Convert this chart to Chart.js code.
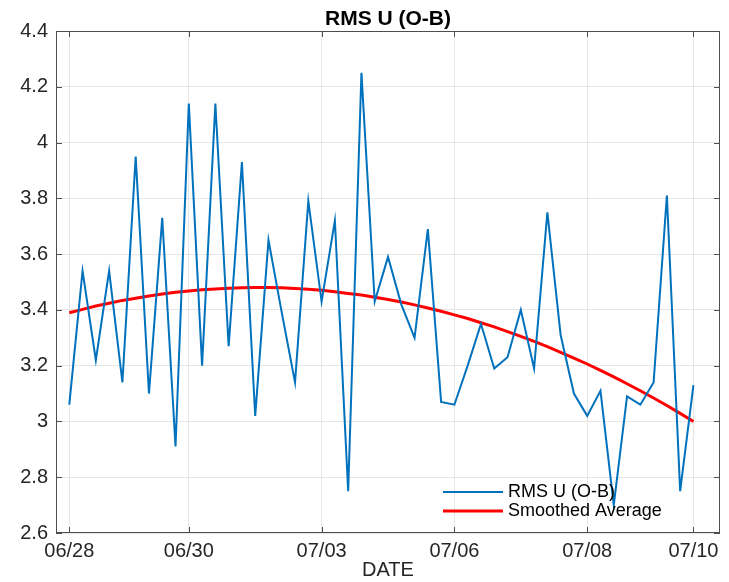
<!DOCTYPE html>
<html>
<head>
<meta charset="utf-8">
<script src="https://cdn.jsdelivr.net/npm/chart.js@4"></script>
<style>
  body { margin: 0; background: #fff; }
  #wrap { width: 729px; height: 582px; position: relative; }
</style>
</head>
<body>
<div id="wrap"><canvas id="chart"></canvas></div>
<script>
// data (one point per sample index)
var rmsU = [3.06, 3.54, 3.22, 3.54, 3.14, 3.95, 3.10, 3.73, 2.91, 4.14,
            3.20, 4.14, 3.27, 3.93, 3.02, 3.65, 3.39, 3.14, 3.79, 3.43,
            3.72, 2.75, 4.25, 3.43, 3.59, 3.42, 3.30, 3.69, 3.07, 3.06,
            3.20, 3.35, 3.19, 3.23, 3.40, 3.19, 3.75, 3.31, 3.10, 3.02,
            3.11, 2.70, 3.09, 3.06, 3.14, 3.81, 2.75, 3.13];
var smoothed = [3.390, 3.402, 3.414, 3.424, 3.434, 3.442, 3.450, 3.457, 3.463, 3.468,
                3.472, 3.475, 3.478, 3.479, 3.480, 3.480, 3.479, 3.477, 3.474, 3.470,
                3.465, 3.459, 3.453, 3.445, 3.437, 3.428, 3.418, 3.407, 3.395, 3.382,
                3.369, 3.354, 3.339, 3.322, 3.305, 3.287, 3.268, 3.248, 3.227, 3.206,
                3.183, 3.160, 3.135, 3.110, 3.084, 3.057, 3.029, 3.000];
var tickIdx = [0, 9, 19, 29, 39, 47];
var tickLabels = ['06/28', '06/30', '07/03', '07/06', '07/08', '07/10'];
var titleText = 'RMS U (O-B)';

var FONT = "'Liberation Sans', Arial, Helvetica, sans-serif";

function toXY(arr) {
  return arr.map(function (v, i) { return { x: i, y: v }; });
}

// matlab style box with inward ticks, title over the axes, legend inside
var boxPlugin = {
  id: 'matlabBox',
  afterDatasetsDraw: function (chart) {
    var ctx = chart.ctx, a = chart.chartArea;
    var xs = chart.scales.x, ys = chart.scales.y;
    ctx.save();
    ctx.strokeStyle = '#4d4d4d';
    ctx.lineWidth = 1;
    ctx.strokeRect(a.left + 0.5, a.top + 0.5, a.right - a.left - 1, a.bottom - a.top - 1);
    ctx.beginPath();
    xs.ticks.forEach(function (t) {
      var px = Math.round(xs.getPixelForValue(t.value)) + 0.5;
      ctx.moveTo(px, a.bottom); ctx.lineTo(px, a.bottom - 6);
      ctx.moveTo(px, a.top); ctx.lineTo(px, a.top + 6);
    });
    ys.ticks.forEach(function (t) {
      var py = Math.round(ys.getPixelForValue(t.value)) + 0.5;
      ctx.moveTo(a.left, py); ctx.lineTo(a.left + 6, py);
      ctx.moveTo(a.right, py); ctx.lineTo(a.right - 6, py);
    });
    ctx.stroke();
    ctx.restore();
  },
  afterDraw: function (chart) {
    var ctx = chart.ctx, a = chart.chartArea;
    ctx.save();
    ctx.fillStyle = '#000';
    ctx.font = 'bold 21px ' + FONT;
    ctx.textAlign = 'center';
    ctx.textBaseline = 'middle';
    ctx.fillText(titleText, (a.left + a.right) / 2, 19);

    var lx = 443, ly = 492, row = 19;
    ctx.font = '18px ' + FONT;
    ctx.textAlign = 'left';
    chart.data.datasets.forEach(function (ds, i) {
      var y = ly + i * row;
      ctx.strokeStyle = ds.borderColor;
      ctx.lineWidth = ds.borderWidth;
      ctx.beginPath();
      ctx.moveTo(lx, y); ctx.lineTo(lx + 60, y);
      ctx.stroke();
      ctx.fillStyle = '#000';
      ctx.fillText(ds.label, lx + 65, y);
    });
    ctx.restore();
  }
};

var config = {
  type: 'line',
  data: {
    datasets: [
      {
        label: 'RMS U (O-B)',
        data: toXY(rmsU),
        borderColor: '#0072BD',
        borderWidth: 2,
        pointRadius: 0,
        tension: 0,
        fill: false
      },
      {
        label: 'Smoothed Average',
        data: toXY(smoothed),
        borderColor: '#FF0000',
        borderWidth: 3,
        pointRadius: 0,
        tension: 0,
        fill: false
      }
    ]
  },
  options: {
    responsive: true,
    maintainAspectRatio: false,
    animation: false,
    layout: { padding: { left: 0, right: 9, top: 31, bottom: 0 } },
    plugins: {
      legend: { display: false },
      tooltip: { enabled: false },
      title: { display: false }
    },
    scales: {
      x: {
        type: 'linear',
        min: -1,
        max: 49,
        afterBuildTicks: function (scale) {
          scale.ticks = tickIdx.map(function (v) { return { value: v }; });
        },
        afterFit: function (scale) { scale.height = 49; },
        ticks: {
          autoSkip: false,
          maxRotation: 0,
          padding: 6,
          color: '#262626',
          font: { family: FONT, size: 20 },
          callback: function (v) {
            var k = tickIdx.indexOf(v);
            return k >= 0 ? tickLabels[k] : '';
          }
        },
        grid: { color: '#e6e6e6', drawTicks: false },
        border: { display: false },
        title: {
          display: true,
          text: 'DATE',
          color: '#262626',
          font: { family: FONT, size: 20 },
          padding: { top: 0, bottom: 0 }
        }
      },
      y: {
        min: 2.6,
        max: 4.4,
        afterFit: function (scale) { scale.width = 56; },
        ticks: {
          stepSize: 0.2,
          padding: 8,
          color: '#262626',
          font: { family: FONT, size: 20 },
          callback: function (v) { return String(+v.toFixed(1)); }
        },
        grid: { color: '#e6e6e6', drawTicks: false },
        border: { display: false }
      }
    }
  },
  plugins: [boxPlugin]
};

var ctx = document.getElementById('chart').getContext('2d');
var chart = new Chart(ctx, config);
</script>
</body>
</html>
